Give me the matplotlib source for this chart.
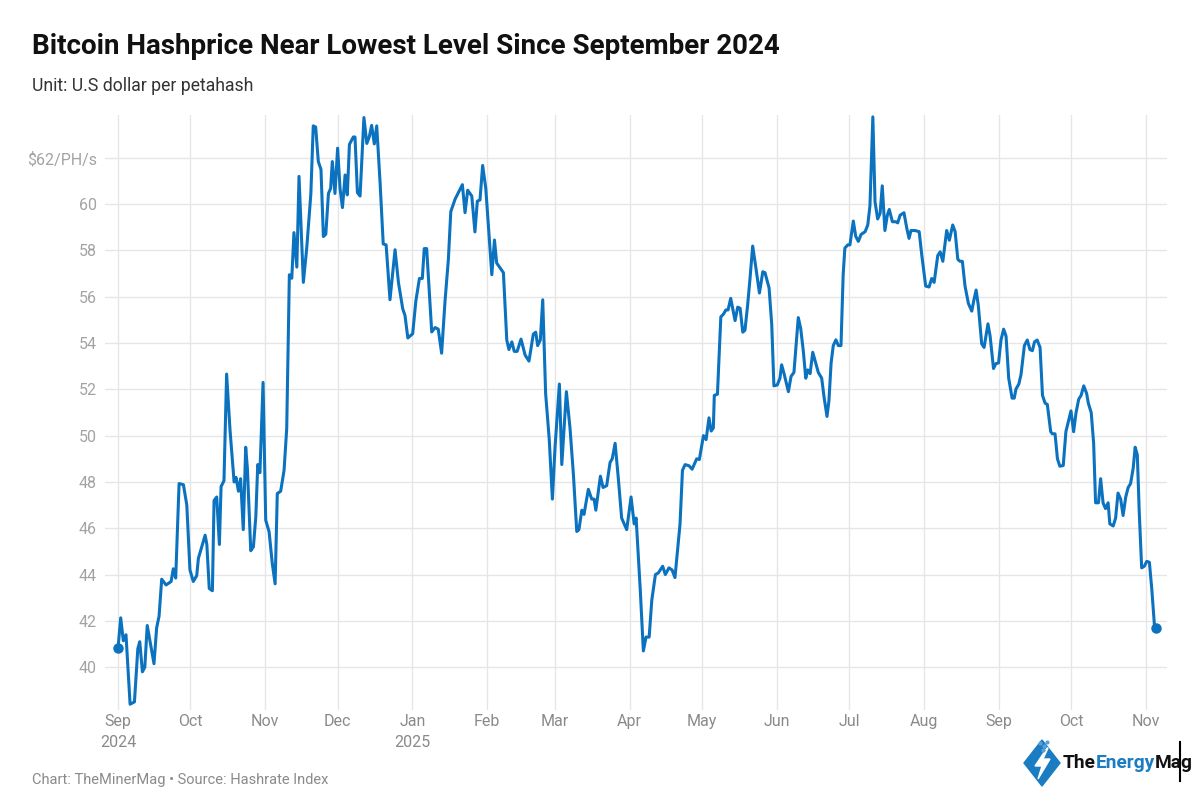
import numpy as np
import pandas as pd
import matplotlib
matplotlib.use('Agg')
import matplotlib.pyplot as plt
from matplotlib.patches import Polygon
from matplotlib.lines import Line2D

plt.rcParams['font.family'] = ['Roboto', 'DejaVu Sans']

# Hashprice, USD per PH/s per day
start_date = pd.Timestamp('2024-09-01')
day_offset = [
    0, 1.1, 2.2, 3.3, 5.0, 6.8, 8.2, 9.0, 10.1, 11.1,
    12.1, 14.9, 16.0, 17.0, 18.1, 19.9, 22.0, 22.9, 23.9, 25.3,
    27.1, 28.5, 29.8, 31.2, 32.6, 33.3, 36.1, 36.8, 37.8, 39.1,
    39.8, 40.9, 42.0, 42.7, 43.9, 45.0, 46.4, 48.1, 48.9, 49.9,
    50.8, 51.9, 52.9, 53.6, 55.0, 56.1, 57.1, 57.9, 58.8, 60.1,
    61.2, 62.6, 63.9, 65.1, 66.0, 67.4, 68.8, 69.9, 71.0, 72.0,
    72.9, 74.1, 75.0, 76.8, 78.2, 79.9, 80.9, 81.9, 83.0, 84.1,
    85.1, 86.1, 87.2, 88.1, 88.8, 89.9, 91.0, 92.0, 93.0, 94.1,
    95.0, 95.9, 97.5, 98.2, 99.2, 100.3, 101.9, 103.1, 104.1, 105.1,
    106.2, 107.2, 108.6, 109.9, 111.1, 112.7, 114.8, 116.2, 118.0, 118.9,
    120.1, 122.1, 123.4, 124.9, 126.1, 126.9, 127.9, 130.0, 131.4, 132.7,
    134.1, 135.5, 136.9, 137.9, 139.7, 142.7, 143.8, 144.9, 146.6, 147.9,
    148.9, 150.0, 151.1, 152.4, 154.9, 156.0, 156.9, 159.7, 161.1, 162.0,
    163.2, 164.2, 165.4, 167.0, 168.7, 170.3, 172.1, 173.1, 173.9, 175.0,
    176.0, 177.2, 178.7, 180.0, 181.1, 182.9, 183.9, 185.8, 187.3, 188.7,
    190.1, 191.0, 192.2, 193.1, 194.9, 196.3, 197.3, 198.0, 199.9, 201.0,
    202.5, 203.9, 204.8, 206.0, 207.3, 208.7, 210.8, 212.6, 213.9, 214.7,
    216.4, 217.7, 218.8, 220.1, 221.2, 222.7, 223.9, 225.7, 226.8, 228.3,
    229.6, 230.8, 232.9, 233.9, 235.0, 236.6, 237.9, 239.8, 240.9, 242.6,
    243.7, 244.9, 245.8, 246.7, 247.1, 248.4, 249.8, 250.9, 251.9, 252.8,
    253.9, 255.7, 256.8, 257.8, 258.9, 259.8, 260.9, 261.9, 263.0, 264.4,
    265.8, 267.2, 268.1, 269.8, 270.9, 271.8, 273.2, 274.3, 275.0, 276.1,
    277.8, 278.9, 280.1, 281.9, 282.9, 284.0, 285.0, 285.8, 286.8, 287.9,
    289.1, 290.2, 291.6, 292.6, 293.8, 294.6, 295.5, 296.4, 297.5, 298.5,
    299.6, 300.5, 301.2, 302.4, 303.3, 304.7, 305.7, 306.8, 307.9, 309.6,
    310.7, 311.6, 312.8, 313.7, 314.8, 315.8, 316.7, 317.8, 318.8, 319.6,
    320.9, 322.3, 323.1, 324.1, 325.7, 326.9, 327.8, 328.6, 330.3, 332.0,
    333.1, 334.7, 336.1, 337.2, 338.2, 339.7, 340.7, 341.8, 343.4, 344.5,
    345.9, 346.9, 348.0, 348.9, 349.9, 351.0, 352.4, 353.8, 354.7, 355.6,
    356.5, 357.9, 358.9, 360.5, 361.4, 362.8, 363.8, 364.9, 365.9, 367.0,
    368.0, 369.1, 370.5, 371.4, 372.1, 373.3, 374.2, 375.6, 376.8, 377.9,
    378.9, 379.8, 380.9, 382.1, 383.1, 384.2, 385.1, 386.5, 387.2, 388.3,
    389.3, 390.3, 391.7, 392.8, 393.8, 394.9, 396.0, 397.0, 398.1, 399.1,
    400.2, 401.4, 402.1, 403.3, 404.3, 405.1, 406.3, 407.2, 408.2, 409.2,
    410.3, 411.0, 412.4, 413.4, 414.4, 415.5, 416.5, 417.6, 418.6, 419.6,
    420.7, 421.5, 422.4, 423.2, 424.2, 425.3, 426.3, 427.4, 428.4, 429.5,
    430.2,
]
hashprice = [
    40.82, 42.13, 41.14, 41.4, 38.4, 38.5, 40.8, 41.1, 39.8, 40.0,
    41.8, 40.15, 41.7, 42.2, 43.8, 43.55, 43.7, 44.25, 43.85, 47.93,
    47.88, 47.0, 44.2, 43.7, 43.95, 44.7, 45.7, 45.3, 43.4, 43.3,
    47.2, 47.35, 45.3, 47.8, 48.05, 52.66, 50.25, 48.0, 48.2, 47.6,
    48.14, 45.94, 49.5, 48.6, 45.03, 45.2, 46.5, 48.75, 48.4, 52.3,
    46.35, 45.85, 44.5, 43.6, 47.5, 47.6, 48.5, 50.3, 56.95, 56.8,
    58.77, 57.28, 61.2, 56.62, 58.1, 60.44, 63.38, 63.33, 61.84, 61.5,
    58.6, 58.7, 60.46, 60.68, 61.84, 60.46, 62.42, 60.68, 59.85, 61.26,
    60.4, 62.58, 62.9, 62.9, 60.5, 60.35, 63.74, 62.62, 62.9, 63.4,
    62.6, 63.38, 60.92, 58.28, 58.24, 55.87, 58.03, 56.62, 55.47, 55.2,
    54.22, 54.4, 55.8, 56.79, 56.79, 58.08, 58.08, 54.48, 54.67, 54.6,
    53.56, 55.8, 57.62, 59.68, 60.22, 60.84, 59.63, 60.6, 60.35, 58.8,
    60.13, 60.18, 61.67, 60.68, 56.95, 58.45, 57.46, 57.04, 54.13, 53.72,
    54.05, 53.64, 53.64, 54.17, 53.48, 53.22, 54.39, 54.47, 53.89, 54.13,
    55.87, 51.82, 49.83, 47.26, 49.5, 52.23, 48.75, 51.9, 50.33, 48.34,
    45.86, 45.94, 46.78, 46.6, 47.68, 47.26, 47.26, 46.78, 48.25, 47.76,
    47.84, 48.84, 49.0, 49.67, 48.18, 46.44, 45.94, 47.35, 46.19, 46.44,
    43.37, 40.7, 41.3, 41.3, 42.9, 44.0, 44.07, 44.36, 44.0, 44.29,
    44.2, 43.87, 46.19, 48.5, 48.75, 48.7, 48.55, 49.0, 48.97, 50.0,
    49.83, 50.77, 50.2, 50.33, 51.74, 51.79, 55.13, 55.25, 55.43, 55.43,
    55.93, 54.97, 55.55, 55.5, 54.47, 54.55, 55.63, 56.79, 58.19, 57.2,
    56.16, 57.08, 57.04, 56.38, 54.8, 52.15, 52.19, 52.48, 53.06, 52.64,
    51.9, 52.56, 52.73, 55.1, 54.63, 53.64, 52.48, 52.84, 52.68, 53.6,
    53.14, 52.73, 52.48, 51.65, 50.83, 51.5, 53.14, 53.89, 54.14, 53.89,
    53.89, 56.95, 58.1, 58.24, 58.24, 59.27, 58.61, 58.39, 58.69, 58.81,
    59.1, 59.93, 63.77, 60.1, 59.36, 59.6, 60.79, 58.86, 59.52, 59.77,
    59.24, 59.24, 59.19, 59.52, 59.63, 58.94, 58.52, 58.86, 58.86, 58.81,
    57.78, 56.46, 56.42, 56.79, 56.62, 57.78, 57.94, 57.53, 58.86, 58.44,
    59.1, 58.81, 57.62, 57.53, 57.53, 56.46, 55.71, 55.38, 55.87, 56.29,
    55.63, 53.97, 53.81, 54.83, 54.3, 52.9, 53.11, 53.14, 54.13, 54.6,
    54.3, 52.48, 51.62, 51.62, 52.01, 52.23, 52.64, 53.89, 54.13, 53.72,
    53.67, 54.05, 54.13, 53.81, 51.74, 51.4, 51.35, 50.17, 50.08, 50.08,
    49.0, 48.68, 48.71, 50.17, 50.59, 51.07, 50.17, 50.99, 51.57, 51.74,
    52.15, 51.82, 51.4, 50.99, 49.67, 47.1, 47.1, 48.14, 47.1, 46.85,
    47.1, 46.19, 46.1, 46.44, 47.52, 47.26, 46.55, 47.35, 47.76, 47.93,
    48.6, 49.5, 49.17, 46.69, 44.29, 44.36, 44.57, 44.53, 43.37, 41.8,
    41.69,
]

month_ticks = pd.date_range('2024-09-01', '2025-11-01', freq='MS')
month_labels = ['Sep\n2024', 'Oct', 'Nov', 'Dec', 'Jan\n2025', 'Feb', 'Mar',
                'Apr', 'May', 'Jun', 'Jul', 'Aug', 'Sep', 'Oct', 'Nov']
y_ticks = list(range(40, 63, 2))
y_labels = [str(v) for v in y_ticks[:-1]] + ['\\$62/PH/s']

line_color = '#0b72bf'
dates = start_date + pd.to_timedelta(day_offset, unit='D')

fig = plt.figure(figsize=(12, 8), dpi=100)
ax = fig.add_axes([105 / 1200, 1 - 710 / 800, 1062 / 1200, 595 / 800])

ax.plot(dates, hashprice, color=line_color, lw=2.2,
        solid_joinstyle='round', solid_capstyle='round', zorder=3)
ax.plot([dates[0], dates[-1]], [hashprice[0], hashprice[-1]], 'o',
        color=line_color, ms=6.5, zorder=4)

ax.set_xlim(start_date - pd.Timedelta(days=5.4), start_date + pd.Timedelta(days=434.7))
ax.set_ylim(38.15, 63.85)
ax.set_xticks(month_ticks)
ax.set_xticklabels(month_labels, linespacing=1.45)
ax.set_yticks(y_ticks)
ax.set_yticklabels(y_labels)

for s in ax.spines.values():
    s.set_visible(False)
ax.grid(True, color='#e6e6e6', lw=1.0, zorder=0)
ax.tick_params(axis='x', length=0, pad=3, labelsize=11.5, labelcolor='#8a8a8a')
ax.tick_params(axis='y', length=0, pad=6, labelsize=11.5, labelcolor='#a3a3a3')

# titles and footer
fig.text(32 / 1200, 1 - 47 / 800, 'Bitcoin Hashprice Near Lowest Level Since September 2024',
         fontsize=20, weight='bold', color='#111111', va='center', ha='left')
fig.text(32 / 1200, 1 - 86 / 800, 'Unit: U.S dollar per petahash',
         fontsize=12.7, color='#333333', va='center', ha='left')
fig.text(32 / 1200, 1 - 780 / 800, 'Chart: TheMinerMag \u2022 Source: Hashrate Index',
         fontsize=10.5, color='#8a8a8a', va='center', ha='left')

# logo
def fp(x, y):
    return (x / 1200, 1 - y / 800)

diamond = Polygon([fp(1042, 740), fp(1060, 763), fp(1042, 786), fp(1024, 763)],
                  closed=True, transform=fig.transFigure, color='#1a7cc1')
fig.add_artist(diamond)
bolt = Polygon([fp(1047, 748), fp(1035, 766), fp(1042, 766), fp(1038, 779),
                fp(1050, 759), fp(1043, 759), fp(1048, 748)],
               closed=True, transform=fig.transFigure, color='white')
fig.add_artist(bolt)
fig.add_artist(Line2D([1040 / 1200, 1044 / 1200, 1047 / 1200, 1043 / 1200],
                      [1 - 743 / 800, 1 - 746 / 800, 1 - 742 / 800, 1 - 750 / 800],
                      transform=fig.transFigure, ls='', marker='o', ms=2,
                      color='#5aa0d8'))

renderer = fig.canvas.get_renderer()
x_px = 1063
for part, col in [('The', '#111111'), ('Energy', '#1a7cc1'), ('Mag', '#111111')]:
    t = fig.text(x_px / 1200, 1 - 763 / 800, part, color=col, fontsize=13.8,
                 weight='bold', va='center', ha='left')
    x_px += t.get_window_extent(renderer).width
fig.add_artist(Line2D([1180 / 1200, 1180 / 1200], [1 - 742 / 800, 1 - 781 / 800],
                      transform=fig.transFigure, color='black', lw=1.5))

fig.savefig('out.png', dpi=100)
